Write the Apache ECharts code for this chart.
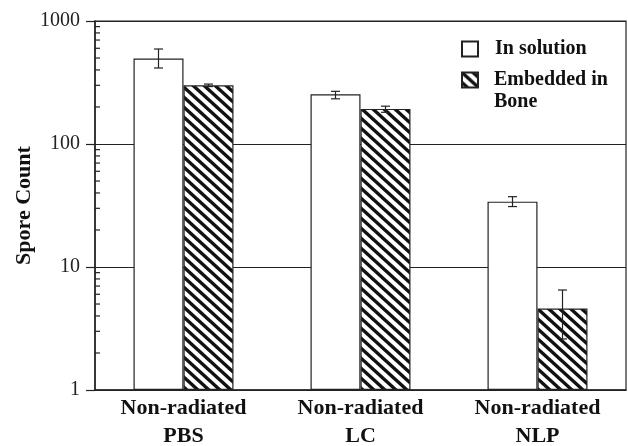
<!DOCTYPE html>
<html>
<head>
<meta charset="utf-8">
<script src="https://cdn.jsdelivr.net/npm/echarts@6/dist/echarts.min.js"></script>
<style>
html, body { margin: 0; padding: 0; background: #fff; }
#main { width: 628px; height: 446px; }
</style>
</head>
<body>
<div id="main"></div>
<script>
var categories = ['Non-radiated\nPBS', 'Non-radiated\nLC', 'Non-radiated\nNLP'];
var solution = [495, 254, 34];
var solutionLow = [415, 233, 31];
var solutionHigh = [592, 268, 37.3];
var bone = [300, 193, 4.6];
var boneLow = [293, 181, 2.6];
var boneHigh = [307, 203, 6.5];
var minorTicks = [2, 3, 4, 5, 6, 7, 8, 9, 20, 30, 40, 50, 60, 70, 80, 90, 200, 300, 400, 500, 600, 700, 800, 900];

var FONT = 'Liberation Serif';
var INK = '#222';
var barW = 50;

// 斜线填充
function makeHatch() {
	var w = 11, h = 10;
	var c = document.createElement('canvas');
	c.width = w;
	c.height = h;
	var ctx = c.getContext('2d');
	ctx.fillStyle = '#fff';
	ctx.fillRect(0, 0, w, h);
	ctx.strokeStyle = '#111';
	ctx.lineWidth = 3.4;
	for (var k = -1; k <= 1; k++) {
		ctx.beginPath();
		ctx.moveTo(-w, -h + k * h);
		ctx.lineTo(2 * w, 2 * h + k * h);
		ctx.stroke();
	}
	return c;
}
var hatch = { image: makeHatch(), repeat: 'repeat' };

function errData(low, high) {
	return low.map(function (v, i) { return [i, v, high[i]]; });
}

function errRender(shift) {
	return function (params, api) {
		var lo = api.coord([api.value(0), api.value(1)]);
		var hi = api.coord([api.value(0), api.value(2)]);
		var x = lo[0] + shift;
		var cap = 4.5;
		var st = { stroke: INK, lineWidth: 1.2 };
		return {
			type: 'group',
			children: [
				{ type: 'line', shape: { x1: x, y1: lo[1], x2: x, y2: hi[1] }, style: st },
				{ type: 'line', shape: { x1: x - cap, y1: lo[1], x2: x + cap, y2: lo[1] }, style: st },
				{ type: 'line', shape: { x1: x - cap, y1: hi[1], x2: x + cap, y2: hi[1] }, style: st }
			]
		};
	};
}

var myChart = echarts.init(document.getElementById('main'));

var option = {
	backgroundColor: '#fff',
	animation: false,
	grid: {
		left: 95,
		right: 2,
		top: 21,
		bottom: 56,
		outerBoundsMode: 'none',
		containLabel: false,
		show: true,
		borderColor: INK,
		borderWidth: 1.2
	},
	legend: [{
		data: [{ name: 'In solution' }],
		left: 461,
		top: 39,
		padding: 0,
		icon: 'rect',
		itemWidth: 16,
		itemHeight: 15,
		textStyle: { fontFamily: FONT, fontWeight: 'bold', fontSize: 20, color: '#111', padding: [0, 0, 0, 12] }
	}, {
		data: [{ name: 'Embedded in\nBone' }],
		left: 461,
		top: 47,
		padding: 0,
		icon: 'rect',
		itemWidth: 16,
		itemHeight: 15,
		formatter: function (name) { return ' \n' + name; },
		textStyle: { fontFamily: FONT, fontWeight: 'bold', fontSize: 20, lineHeight: 22, color: '#111', padding: [0, 0, 0, 11] }
	}],
	xAxis: {
		type: 'category',
		data: categories,
		axisLine: { lineStyle: { color: INK, width: 1.5 } },
		axisTick: { length: 7, lineStyle: { color: INK, width: 1.2 } },
		axisLabel: {
			interval: 0,
			margin: 4,
			color: '#111',
			fontFamily: FONT,
			fontWeight: 'bold',
			fontSize: 22,
			lineHeight: 28
		}
	},
	yAxis: {
		type: 'log',
		min: 1,
		max: 1000,
		logBase: 10,
		name: 'Spore Count',
		nameLocation: 'middle',
		nameGap: 60,
		nameMoveOverlap: false,
		nameTextStyle: { fontFamily: FONT, fontWeight: 'bold', fontSize: 22, color: '#111' },
		axisLine: { show: true, lineStyle: { color: INK, width: 1.5 } },
		axisTick: { show: true, length: 9, lineStyle: { color: INK, width: 1.2 } },
		axisLabel: {
			margin: 15,
			color: '#222',
			fontFamily: FONT,
			fontSize: 20,
			formatter: function (v) { return String(v); }
		},
		splitLine: { show: true, lineStyle: { color: INK, width: 1.2 } }
	},
	series: [{
		name: 'In solution',
		type: 'bar',
		barWidth: barW,
		barGap: '0%',
		data: solution,
		itemStyle: { color: '#fff', borderColor: INK, borderWidth: 1.2 },
		z: 3
	}, {
		name: 'Embedded in\nBone',
		type: 'bar',
		barWidth: barW,
		barGap: '0%',
		data: bone,
		itemStyle: { color: hatch, borderColor: INK, borderWidth: 1.2 },
		z: 3
	}, {
		type: 'custom',
		data: errData(solutionLow, solutionHigh),
		renderItem: errRender(-barW / 2),
		encode: { x: 0, y: [1, 2] },
		z: 5
	}, {
		type: 'custom',
		data: errData(boneLow, boneHigh),
		renderItem: errRender(barW / 2),
		encode: { x: 0, y: [1, 2] },
		z: 5
	}, {
		// 对数轴次刻度
		type: 'custom',
		data: minorTicks.map(function (v) { return [0, v]; }),
		renderItem: function (params, api) {
			var y = api.coord([0, api.value(1)])[1];
			var x = params.coordSys.x;
			return {
				type: 'line',
				shape: { x1: x, y1: y, x2: x + 5, y2: y },
				style: { stroke: INK, lineWidth: 1.2 }
			};
		},
		encode: { x: 0, y: 1 },
		z: 6
	}]
};

myChart.setOption(option);
</script>
</body>
</html>
